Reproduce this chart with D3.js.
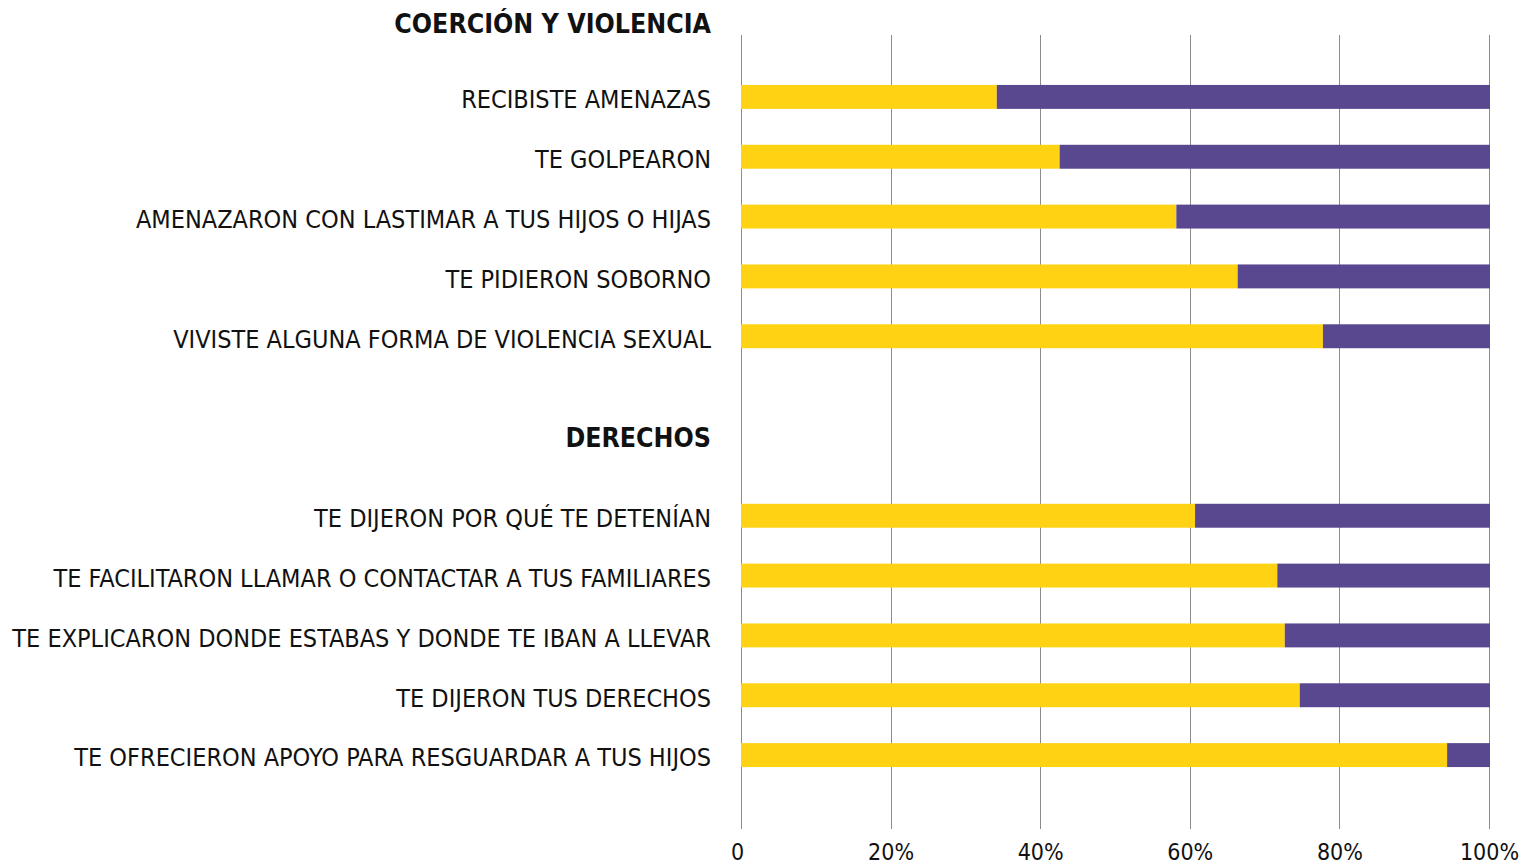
<!DOCTYPE html>
<html>
    <head>
        <meta charset="utf-8">
        <title>Coerción y violencia / Derechos</title>
        <style>
            body { margin: 0; background: #fff; }
            svg text { font-family: "DejaVu Sans Condensed", "Liberation Sans Narrow", sans-serif; fill: #111; }
        </style>
        <script src="https://cdnjs.cloudflare.com/ajax/libs/d3/7.0.4/d3.min.js" charset="utf-8"></script>
    </head>
    <body>
        <div id="chart"></div>
        <script>
            // groups of rows, one heading each
            const headings = ["COERCIÓN Y VIOLENCIA", "DERECHOS"];
            const coercion = [
                "RECIBISTE AMENAZAS",
                "TE GOLPEARON",
                "AMENAZARON CON LASTIMAR A TUS HIJOS O HIJAS",
                "TE PIDIERON SOBORNO",
                "VIVISTE ALGUNA FORMA DE VIOLENCIA SEXUAL"
            ];
            const coercionYes = [34.2, 42.6, 58.2, 66.4, 77.8];
            const derechos = [
                "TE DIJERON POR QUÉ TE DETENÍAN",
                "TE FACILITARON LLAMAR O CONTACTAR A TUS FAMILIARES",
                "TE EXPLICARON DONDE ESTABAS Y DONDE TE IBAN A LLEVAR",
                "TE DIJERON TUS DERECHOS",
                "TE OFRECIERON APOYO PARA RESGUARDAR A TUS HIJOS"
            ];
            const derechosYes = [60.7, 71.7, 72.7, 74.7, 94.4];
            const xTicks = [0, 20, 40, 60, 80, 100];

            const w = 1529, h = 866;
            const left = 741, right = 1489;
            const gridTop = 35, gridBottom = 829;

            const rows = coercion.map((c, i) => ({ label: c, yes: coercionYes[i] }))
                .concat([{ label: "_gap1" }, { label: "_gap2" }])
                .concat(derechos.map((c, i) => ({ label: c, yes: derechosYes[i] })));

            const svg = d3.select("#chart").append("svg")
                .attr("width", w)
                .attr("height", h);

            const xScale = d3.scaleLinear().domain([0, 100]).range([left, right]);
            const yScale = d3.scaleBand()
                .domain(rows.map(d => d.label))
                .range([67, 785])
                .paddingInner(0.6)
                .paddingOuter(0.3);

            // vertical grid lines
            svg.append("g").selectAll("line")
                .data(xTicks)
                .enter()
                .append("line")
                .attr("x1", d => Math.round(xScale(d)) + 0.5)
                .attr("x2", d => Math.round(xScale(d)) + 0.5)
                .attr("y1", gridTop)
                .attr("y2", gridBottom)
                .attr("stroke", "#8c8c8c")
                .attr("stroke-width", 1);

            const xAxis = d3.axisBottom(xScale)
                .tickValues(xTicks)
                .tickSize(0)
                .tickPadding(0)
                .tickFormat(d => d === 0 ? "0" : d + "%");

            svg.append("g")
                .attr("transform", "translate(0," + 844 + ")")
                .call(xAxis)
                .call(g => g.select(".domain").remove())
                .selectAll("text")
                .attr("font-size", 23)
                .attr("font-family", null)
                .attr("fill", "#111")
                .attr("dy", "0.71em")
                .attr("x", d => d === 0 ? -4 : 0);

            const data = rows.filter(d => d.yes !== undefined);

            const bars = svg.append("g").selectAll("g")
                .data(data)
                .enter()
                .append("g");

            bars.append("rect")
                .attr("x", xScale(0))
                .attr("y", d => yScale(d.label))
                .attr("width", d => xScale(d.yes) - xScale(0))
                .attr("height", yScale.bandwidth())
                .attr("fill", "#FFD214");

            bars.append("rect")
                .attr("x", d => xScale(d.yes))
                .attr("y", d => yScale(d.label))
                .attr("width", d => xScale(100) - xScale(d.yes) + 1)
                .attr("height", yScale.bandwidth())
                .attr("fill", "#594890");

            const yAxis = d3.axisLeft(yScale)
                .tickSize(0)
                .tickPadding(0)
                .tickFormat(d => d.startsWith("_") ? "" : d);

            svg.append("g")
                .attr("transform", "translate(711,0)")
                .call(yAxis)
                .call(g => g.select(".domain").remove())
                .selectAll("text")
                .attr("font-size", 25)
                .attr("font-family", null)
                .attr("fill", "#111")
                .attr("dy", "0.45em");

            // group headings
            svg.append("g").selectAll("text")
                .data(headings)
                .enter()
                .append("text")
                .attr("x", 711)
                .attr("y", (d, i) => i === 0
                    ? yScale(coercion[0]) + yScale.bandwidth() / 2 - 73
                    : (yScale("_gap1") + yScale("_gap2")) / 2 + yScale.bandwidth() / 2 + 12)
                .attr("dy", "0.35em")
                .attr("text-anchor", "end")
                .attr("font-size", 26.5)
                .attr("font-weight", "bold")
                .text(d => d);
        </script>
    </body>
</html>
